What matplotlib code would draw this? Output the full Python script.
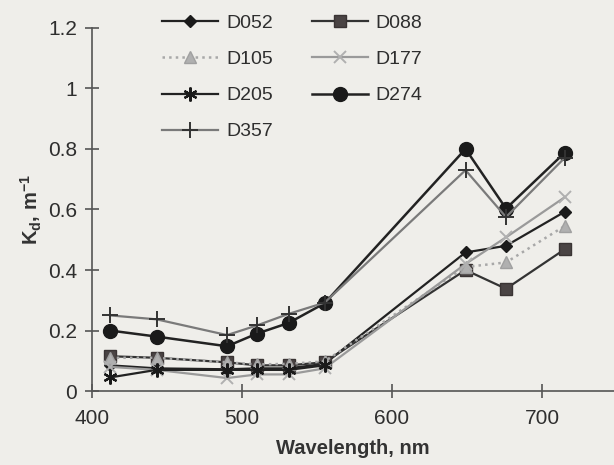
import numpy as np
import matplotlib.pyplot as plt

plt.rcParams['font.family'] = ['Liberation Sans', 'DejaVu Sans']

wavelengths = [412, 443, 490, 510, 531, 555, 649, 676, 715]

d052 = [0.085, 0.075, 0.072, 0.075, 0.075, 0.09, 0.458, 0.48, 0.592]
d088 = [0.115, 0.11, 0.095, 0.085, 0.085, 0.095, 0.40, 0.338, 0.468]
d105 = [0.11, 0.11, 0.095, 0.088, 0.09, 0.098, 0.41, 0.425, 0.545]
d177 = [0.08, 0.07, 0.043, 0.055, 0.055, 0.075, 0.42, 0.508, 0.64]
d205 = [0.045, 0.07, 0.07, 0.07, 0.07, 0.085, np.nan, np.nan, np.nan]
d274 = [0.20, 0.18, 0.148, 0.19, 0.225, 0.29, 0.80, 0.603, 0.787]
d357 = [0.25, 0.237, 0.185, 0.217, 0.255, 0.292, 0.73, 0.575, 0.77]

paper = '#efeeea'

fig = plt.figure(figsize=(6.14, 4.65), dpi=100, facecolor=paper)
ax = fig.add_axes([0.150, 0.159, 0.850, 0.781])
ax.set_facecolor(paper)

h052, = ax.plot(wavelengths, d052, '-', color='#222222', lw=1.6, marker='D', ms=6,
                mfc='#1a1a1a', mec='#1a1a1a', label='D052')
h088, = ax.plot(wavelengths, d088, '-', color='#333333', lw=1.6, marker='s', ms=8,
                mfc='#4a4444', mec='#3a3434', label='D088')
h105, = ax.plot(wavelengths, d105, ':', color='#a8a8a8', lw=1.8, marker='^', ms=8,
                mfc='#b0b0b0', mec='#a0a0a0', label='D105')
h177, = ax.plot(wavelengths, d177, '-', color='#9a9a9a', lw=1.6, marker='x', ms=9,
                mew=1.4, mec='#b0b0b0', label='D177')
h205, = ax.plot(wavelengths, d205, '-', color='#222222', lw=1.6, marker=(6, 2, 0), ms=10,
                mew=1.6, mec='#1a1a1a', label='D205')
h274, = ax.plot(wavelengths, d274, '-', color='#222222', lw=1.8, marker='o', ms=10,
                mfc='#1a1a1a', mec='#1a1a1a', label='D274')
h357, = ax.plot(wavelengths, d357, '-', color='#7a7a7a', lw=1.6, marker='+', ms=12,
                mew=1.4, mec='#333333', label='D357')

ax.set_xlim(400, 748)
ax.set_ylim(0, 1.2)
ax.set_xticks([400, 500, 600, 700])
ax.set_yticks([0, 0.2, 0.4, 0.6, 0.8, 1.0, 1.2])
ax.set_yticklabels(['0', '0.2', '0.4', '0.6', '0.8', '1', '1.2'])

for side in ['top', 'right']:
    ax.spines[side].set_visible(False)
for side in ['left', 'bottom']:
    ax.spines[side].set_color('#555555')
    ax.spines[side].set_linewidth(1.2)

ax.tick_params(direction='inout', length=10, width=1.2, color='#555555',
               labelsize=15, labelcolor='#2e2e2e')
ax.tick_params(axis='x', pad=8)
ax.tick_params(axis='y', pad=6)

ax.set_xlabel('Wavelength, nm', fontsize=14.5, fontweight='bold', color='#333333', labelpad=8)
ax.set_ylabel(r'K$_\mathregular{d}$, m$^{\mathregular{-1}}$', fontsize=14.5,
              fontweight='bold', color='#333333', labelpad=3)

# row-wise legend order: matplotlib fills columns first
handles = [h052, h105, h205, h357, h088, h177, h274]
leg = ax.legend(handles=handles, ncol=2, loc='upper left', bbox_to_anchor=(0.1, 1.085),
                frameon=False, fontsize=14, handlelength=2.9, columnspacing=2.0,
                labelspacing=0.95, handletextpad=0.4)
for t in leg.get_texts():
    t.set_color('#2e2e2e')

fig.savefig('out.png', dpi=100, facecolor=paper)
